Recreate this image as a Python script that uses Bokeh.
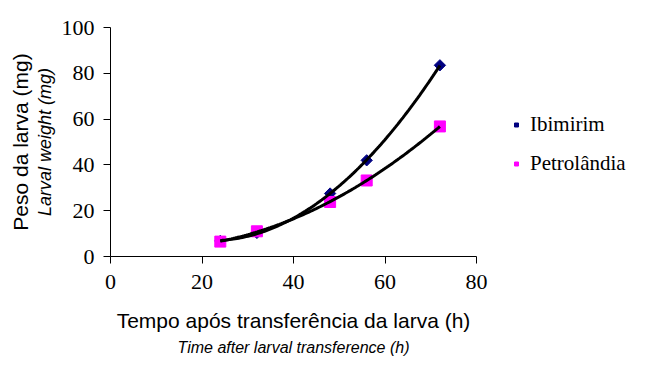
import numpy as np
from bokeh.plotting import figure
from bokeh.models import LinearAxis, FixedTicker, Legend, LegendItem
from bokeh.embed import file_html
from bokeh.resources import INLINE

hours = [24, 32, 48, 56, 72]
ibimirim = [6.8, 10.3, 27.5, 42.0, 83.5]
petrolandia = [6.5, 11.0, 23.8, 33.2, 56.8]
x_ticks = [0, 20, 40, 60, 80]
y_ticks = [0, 20, 40, 60, 80, 100]
series_names = ["Ibimirim", "Petrolândia"]

SERIF = "Liberation Serif"
SANS = "Liberation Sans"

p = figure(frame_width=366, frame_height=229, x_range=(0, 80), y_range=(0, 100),
           output_backend="svg", toolbar_location=None,
           min_border_left=110, min_border_top=27, min_border_right=173, min_border_bottom=0)
p.outline_line_color = None
p.grid.visible = False
p.background_fill_color = "white"

# markers
r_ibi = p.scatter(hours, ibimirim, marker="square", angle=np.pi / 4, size=8,
                  fill_color="#000080", line_color="#000080")
r_pet = p.scatter(hours, petrolandia, marker="square", size=11,
                  fill_color="#FF00FF", line_color="#FF00FF")

# polynomial (order 2) trend lines fitted to the data
xs = np.linspace(min(hours), max(hours), 120)
for ys in (ibimirim, petrolandia):
    c = np.polyfit(hours, ys, 2)
    p.line(xs, np.polyval(c, xs), line_width=3, line_color="black")

# x axis (main)
xa = p.xaxis[0]
xa.ticker = FixedTicker(ticks=x_ticks)
xa.minor_tick_line_color = None
xa.major_tick_in = 0
xa.major_tick_out = 7
xa.axis_line_color = "black"
xa.major_tick_line_color = "black"
xa.major_label_text_font = SERIF
xa.major_label_text_font_size = "22px"
xa.major_label_text_color = "black"
xa.major_label_standoff = 11
xa.axis_label = "Tempo após transferência da larva (h)"
xa.axis_label_text_font = SANS
xa.axis_label_text_font_style = "normal"
xa.axis_label_text_font_size = "21px"
xa.axis_label_text_color = "black"
xa.axis_label_standoff = 17

xa2 = LinearAxis(ticker=FixedTicker(ticks=[]), axis_line_color=None,
                 major_tick_out=0, major_tick_in=0, minor_tick_out=0, minor_tick_in=0,
                 major_label_text_font_size="0px",
                 axis_label="Time after larval transference (h)",
                 axis_label_text_font=SANS, axis_label_text_font_style="italic",
                 axis_label_text_font_size="16px", axis_label_text_color="black",
                 axis_label_standoff=4)
p.add_layout(xa2, "below")

# y axis (main)
ya = p.yaxis[0]
ya.ticker = FixedTicker(ticks=y_ticks)
ya.minor_tick_line_color = None
ya.major_tick_in = 0
ya.major_tick_out = 7
ya.axis_line_color = "black"
ya.major_tick_line_color = "black"
ya.major_label_text_font = SERIF
ya.major_label_text_font_size = "22px"
ya.major_label_text_color = "black"
ya.major_label_standoff = 9
ya.axis_label = "Larval weight (mg)"
ya.axis_label_text_font = SANS
ya.axis_label_text_font_style = "italic"
ya.axis_label_text_font_size = "18px"
ya.axis_label_text_color = "black"
ya.axis_label_standoff = 4

ya2 = LinearAxis(ticker=FixedTicker(ticks=[]), axis_line_color=None,
                 major_tick_out=0, major_tick_in=0, minor_tick_out=0, minor_tick_in=0,
                 major_label_text_font_size="0px",
                 axis_label="Peso da larva (mg)",
                 axis_label_text_font=SANS, axis_label_text_font_style="normal",
                 axis_label_text_font_size="21px", axis_label_text_color="black",
                 axis_label_standoff=0)
p.add_layout(ya2, "left")

legend = Legend(items=[LegendItem(label=series_names[0], renderers=[r_ibi]),
                       LegendItem(label=series_names[1], renderers=[r_pet])],
                location=(35, 80), orientation="vertical",
                margin=0, padding=10, spacing=14,
                glyph_width=10, glyph_height=25, label_height=25, label_standoff=9,
                label_text_font=SERIF, label_text_font_size="21px",
                label_text_color="black",
                border_line_color=None, background_fill_alpha=0)
p.add_layout(legend, "right")

open("out.html", "w").write(file_html(p, INLINE))
